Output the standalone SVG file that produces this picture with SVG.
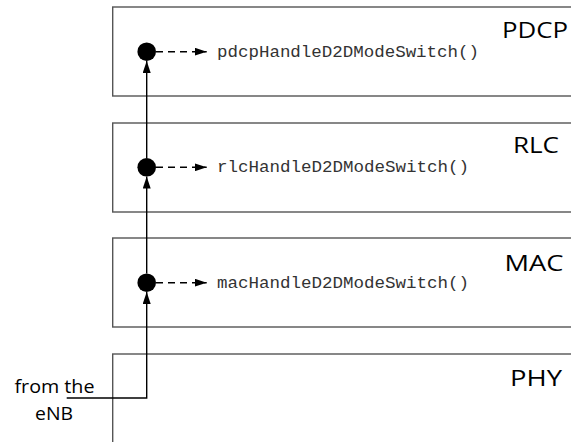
<svg xmlns="http://www.w3.org/2000/svg" width="571" height="442" viewBox="0 0 571 442">
<defs>
<style>
.box{fill:#fff;stroke:#555;stroke-width:1.4}
.layer{font-family:"Open Sans","Liberation Sans",sans-serif;font-size:22px;fill:#000;text-anchor:middle}
.fn{font-family:"Liberation Mono","DejaVu Sans Mono",monospace;font-size:16px;fill:#333}
.lbl{font-family:"Open Sans","Liberation Sans",sans-serif;font-size:17.5px;fill:#000;text-anchor:middle}
.flow{fill:none;stroke:#000;stroke-width:1.4}
.dash{fill:none;stroke:#000;stroke-width:1.4;stroke-dasharray:7 5}
</style>
<marker id="ah" viewBox="0 0 12 8" refX="12" refY="4" markerWidth="12" markerHeight="8" markerUnits="userSpaceOnUse" orient="auto">
<path d="M0,0 L12,4 L0,8 Z" fill="#000"/>
</marker>
</defs>
<g id="pdcp">
<rect class="box" x="112.7" y="7" width="470" height="89"/>
<text class="layer" x="535" y="38" textLength="66" lengthAdjust="spacingAndGlyphs">PDCP</text>
</g>
<g id="rlc">
<rect class="box" x="112.7" y="123" width="470" height="89"/>
<text class="layer" x="536" y="153" textLength="46" lengthAdjust="spacingAndGlyphs">RLC</text>
</g>
<g id="mac">
<rect class="box" x="112.7" y="238" width="470" height="89"/>
<text class="layer" x="534" y="271" textLength="59" lengthAdjust="spacingAndGlyphs">MAC</text>
</g>
<g id="phy">
<rect class="box" x="112.7" y="354" width="470" height="100"/>
<text class="layer" x="536" y="386" textLength="52" lengthAdjust="spacingAndGlyphs">PHY</text>
</g>
<g id="enb">
<text class="lbl" x="54.5" y="393" textLength="80" lengthAdjust="spacingAndGlyphs">from the</text>
<text class="lbl" x="54" y="420" textLength="38" lengthAdjust="spacingAndGlyphs">eNB</text>
</g>
<g id="pdcp-fn">
<circle cx="146.7" cy="51.7" r="9.3" fill="#000"/>
<text class="fn" x="217" y="56.5" textLength="262" lengthAdjust="spacingAndGlyphs">pdcpHandleD2DModeSwitch()</text>
</g>
<g id="rlc-fn">
<circle cx="146.7" cy="167.3" r="9.3" fill="#000"/>
<text class="fn" x="217" y="172" textLength="252" lengthAdjust="spacingAndGlyphs">rlcHandleD2DModeSwitch()</text>
</g>
<g id="mac-fn">
<circle cx="146.7" cy="282.7" r="9.3" fill="#000"/>
<text class="fn" x="217" y="287.5" textLength="252" lengthAdjust="spacingAndGlyphs">macHandleD2DModeSwitch()</text>
</g>
<g id="connectors">
<path class="flow" d="M66.7,398 H146.7 V292" marker-end="url(#ah)"/>
<path class="flow" d="M146.7,273.4 V176.6" marker-end="url(#ah)"/>
<path class="flow" d="M146.7,158 V61" marker-end="url(#ah)"/>
<path class="dash" d="M156,51.7 H206.7" marker-end="url(#ah)"/>
<path class="dash" d="M156,167.3 H206.7" marker-end="url(#ah)"/>
<path class="dash" d="M156,282.7 H206.7" marker-end="url(#ah)"/>
</g>
</svg>
